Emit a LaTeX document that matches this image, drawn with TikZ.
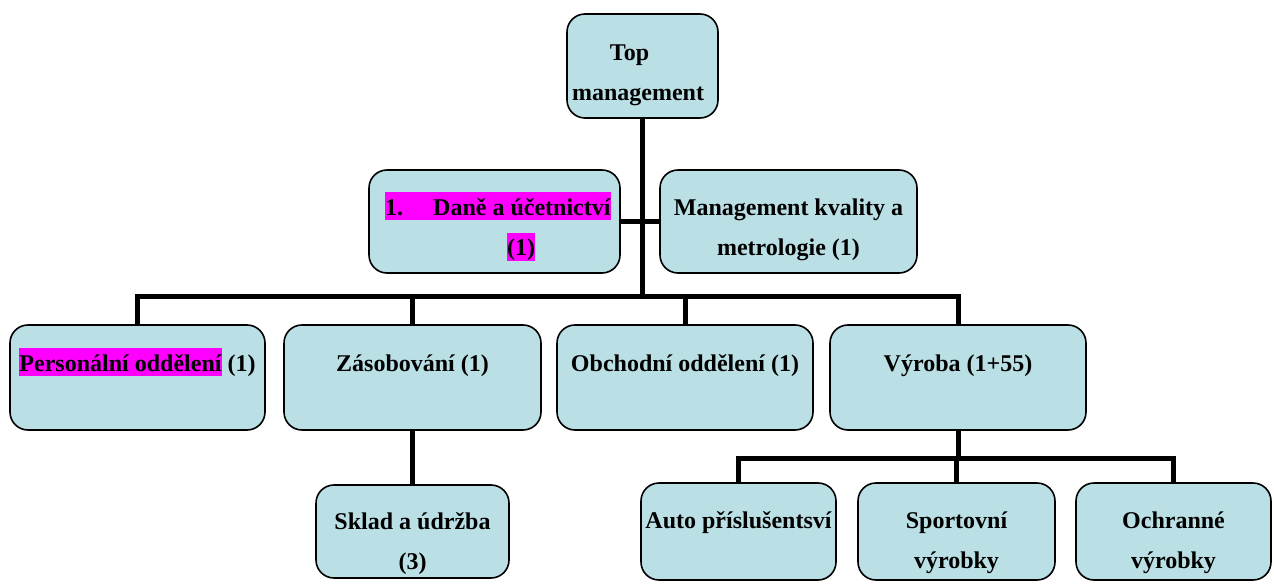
\documentclass[tikz,border=0pt]{standalone}
\usepackage{fontspec}
\setmainfont{Liberation Serif}
\usetikzlibrary{backgrounds}
\definecolor{boxfill}{RGB}{186,223,228}
\definecolor{hlmag}{RGB}{255,0,255}
\newcommand\hlt[1]{{\setlength{\fboxsep}{0pt}\colorbox{hlmag}{\rule[-5pt]{0pt}{28pt}#1}}}
\newcommand\fst{\rule{0pt}{23pt}}
\tikzset{
  box/.style={draw=black, line width=1.6pt, fill=boxfill, rounded corners=18pt, inner sep=0pt},
  lbl/.style={inner sep=0pt, anchor=north, align=center, font=\fontsize{24}{40.5}\selectfont\bfseries},
  conn/.style={line width=5pt, draw=black}
}
\begin{document}
\begin{tikzpicture}[x=1pt,y=-1pt]
\useasboundingbox (0,0) rectangle (1274,585);
% boxes
\node[box, minimum width=151pt, minimum height=104pt] (top) at (642.5,66) {};
\node[box, minimum width=251pt, minimum height=103pt] (dane) at (494.5,221.5) {};
\node[box, minimum width=257pt, minimum height=103pt] (mgmt) at (788.5,221.5) {};
\node[box, minimum width=255pt, minimum height=105pt] (pers) at (137.5,377.5) {};
\node[box, minimum width=257pt, minimum height=105pt] (zas) at (412.5,377.5) {};
\node[box, minimum width=256pt, minimum height=105pt] (obch) at (685,377.5) {};
\node[box, minimum width=256pt, minimum height=105pt] (vyr) at (958,377.5) {};
\node[box, minimum width=193pt, minimum height=93pt] (sklad) at (412.5,531.5) {};
\node[box, minimum width=195pt, minimum height=97pt] (auto) at (738.5,531.5) {};
\node[box, minimum width=197pt, minimum height=97pt] (sport) at (956.5,531.5) {};
\node[box, minimum width=195pt, minimum height=97pt] (ochr) at (1173.5,531.5) {};
% texts
\node[lbl] (ttop) at (638,37) {\fst Top\hspace*{17pt}\\management};
\node[lbl, anchor=north west, align=left] (tdane) at (385,192) {\hlt{\makebox[48pt][l]{1.}Daně a účetnictví}\\\hspace*{122pt}\hlt{(1)}};
\node[lbl] (tmgmt) at (788.5,192) {\fst Management kvality a\\metrologie (1)};
\node[lbl] (tpers) at (137.5,348) {\hlt{Personální oddělení} (1)};
\node[lbl] (tzas) at (412.5,348) {\fst Zásobování (1)};
\node[lbl] (tobch) at (685,348) {\fst Obchodní oddělení (1)};
\node[lbl] (tvyr) at (958,348) {\fst Výroba (1+55)};
\node[lbl] (tsklad) at (412.5,506) {\fst Sklad a údržba\\(3)};
\node[lbl] (tauto) at (738.5,505) {\fst Auto příslušentsví};
\node[lbl] (tsport) at (956.5,505) {\fst Sportovní\\výrobky};
\node[lbl] (tochr) at (1173.5,505) {\fst Ochranné\\výrobky};
% connectors
\coordinate (bus) at (642.5,297);
\coordinate (vbus) at (958,458);
\begin{scope}[on background layer]
\draw[conn] (top.south) -- (bus);
\draw[conn] (dane.east) -- (mgmt.west);
\draw[conn] (pers.north) |- (bus) -| (vyr.north);
\draw[conn] (zas.north) -- (zas.north |- bus);
\draw[conn] (obch.north) -- (obch.north |- bus);
\draw[conn] (zas.south) -- (sklad.north);
\draw[conn] (vyr.south) -- (vbus);
\draw[conn] (auto.north) |- (vbus) -| (ochr.north);
\draw[conn] (sport.north) -- (sport.north |- vbus);
\end{scope}
\end{tikzpicture}
\end{document}
